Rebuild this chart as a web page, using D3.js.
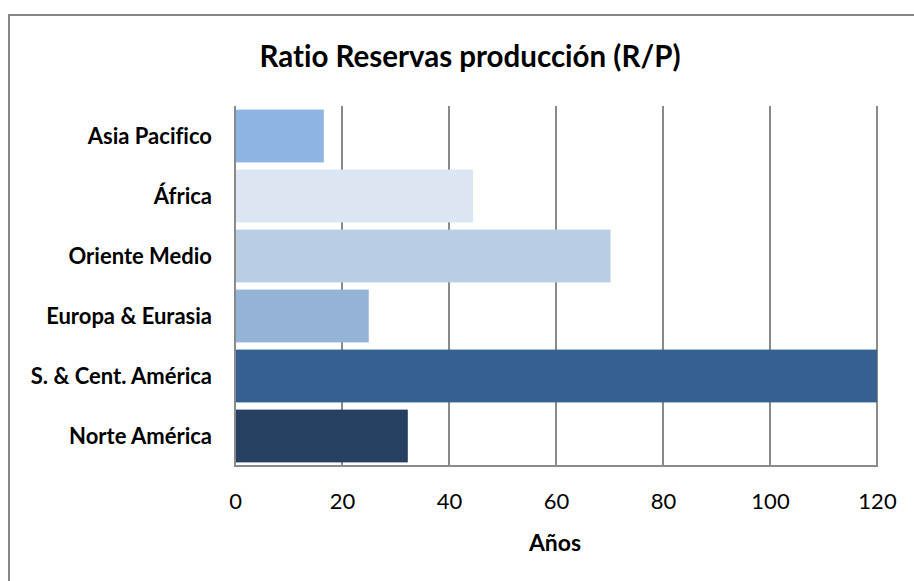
<!DOCTYPE html>
<html>
<head>
<meta charset="utf-8">
<script src="https://cdn.jsdelivr.net/npm/d3@7"></script>
<style>
  html, body { margin: 0; padding: 0; background: #fff; }
  svg { display: block; }
  text { font-family: Lato, "Open Sans", sans-serif; fill: #000; font-variant-ligatures: none; }
</style>
</head>
<body>
<svg id="chart" width="914" height="581"></svg>
<script>
// Reserves-to-production ratio by region (years)
const regions = ["Asia Pacifico", "África", "Oriente Medio", "Europa & Eurasia", "S. & Cent. América", "Norte América"];
const ratios = [16.6, 44.5, 70.2, 25.0, 120, 32.3];
const barColors = ["#8EB4E3", "#DCE6F2", "#B9CDE5", "#95B3D7", "#376092", "#254061"];
const xTicks = [0, 20, 40, 60, 80, 100, 120];

const title = "Ratio Reservas producción (R/P)";
const xTitle = "Años";

const svg = d3.select("#chart");
const plot = { left: 235, right: 877, top: 106, bottom: 466 };

// outer chart frame (runs past the right and bottom edges)
svg.append("rect")
  .attr("x", 9).attr("y", 15)
  .attr("width", 920).attr("height", 590)
  .attr("fill", "#fff")
  .attr("stroke", "#868686")
  .attr("stroke-width", 2);

const x = d3.scaleLinear().domain([0, 120]).range([plot.left, plot.right]).clamp(true);
const y = d3.scaleBand().domain(regions).range([plot.top, plot.bottom]).paddingInner(0.12).paddingOuter(0.06);

// vertical gridlines
svg.append("g")
  .selectAll("line")
  .data(xTicks.slice(1))
  .join("line")
  .attr("x1", d => x(d)).attr("x2", d => x(d))
  .attr("y1", plot.top).attr("y2", plot.bottom)
  .attr("stroke", "#8a8a8a")
  .attr("stroke-width", 2);

// bars
svg.append("g")
  .selectAll("rect")
  .data(regions)
  .join("rect")
  .attr("x", x(0))
  .attr("y", d => y(d))
  .attr("width", (d, i) => x(ratios[i]) - x(0))
  .attr("height", y.bandwidth())
  .attr("fill", (d, i) => barColors[i]);

// axis lines
svg.append("line")
  .attr("x1", plot.left).attr("x2", plot.left)
  .attr("y1", plot.top).attr("y2", plot.bottom + 1)
  .attr("stroke", "#8a8a8a").attr("stroke-width", 2);
svg.append("line")
  .attr("x1", plot.left - 1).attr("x2", plot.right + 1)
  .attr("y1", plot.bottom).attr("y2", plot.bottom)
  .attr("stroke", "#8a8a8a").attr("stroke-width", 2);

// x axis tick labels
const xAxis = d3.axisBottom(x).tickValues(xTicks).tickSize(0).tickPadding(0);
const gx = svg.append("g").attr("transform", `translate(0,${plot.bottom})`).call(xAxis);
gx.select(".domain").remove();
gx.selectAll("text")
  .attr("dy", null)
  .attr("y", 43)
  .style("font-family", "Lato, 'Open Sans', sans-serif")
  .style("font-size", "22px")
  .attr("fill", "#000");

// y axis category labels
const yAxis = d3.axisLeft(y).tickSize(0).tickPadding(0);
const gy = svg.append("g").attr("transform", `translate(212,0)`).call(yAxis);
gy.select(".domain").remove();
gy.selectAll("text")
  .attr("dy", "0.35em")
  .style("font-family", "Lato, 'Open Sans', sans-serif")
  .style("font-size", "22px")
  .style("font-weight", "bold")
  .attr("fill", "#000");

// chart title
svg.append("text")
  .attr("x", 470).attr("y", 67)
  .attr("text-anchor", "middle")
  .style("font-size", "29.5px")
  .style("font-weight", "bold")
  .text(title);

// axis title
svg.append("text")
  .attr("x", 555).attr("y", 551)
  .attr("text-anchor", "middle")
  .style("font-size", "23px")
  .style("font-weight", "bold")
  .text(xTitle);
</script>
</body>
</html>
